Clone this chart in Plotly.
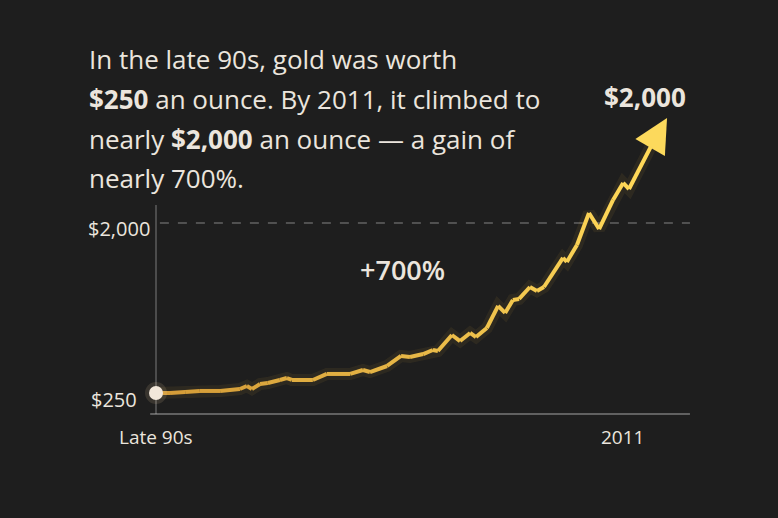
import plotly.graph_objects as go

# ---- data ----
years = [1999.00, 1999.36, 1999.75, 2000.13, 2000.65, 2001.16, 2001.34, 2001.47, 2001.68, 2001.88,
         2002.19, 2002.37, 2002.50, 2003.04, 2003.40, 2004.00, 2004.33, 2004.51, 2004.95, 2005.31,
         2005.54, 2005.88, 2006.13, 2006.26, 2006.62, 2006.83, 2007.09, 2007.24, 2007.52, 2007.81,
         2007.99, 2008.19, 2008.35, 2008.63, 2008.81, 2008.99, 2009.48, 2009.58, 2009.84, 2010.15,
         2010.41, 2010.77, 2011.03, 2011.18, 2011.80]
prices = [250, 250, 260, 271, 271, 291, 322, 291, 343, 353,
          384, 404, 384, 384, 446, 446, 487, 466, 528, 631,
          621, 651, 693, 682, 847, 785, 868, 826, 919, 1146,
          1074, 1207, 1218, 1341, 1300, 1341, 1640, 1599, 1774, 2103,
          1938, 2237, 2412, 2350, 2830]
arrow_tip = (2012.16, 3081)

x_tick_vals = [1999.0, 2011.0]
x_tick_text = ["Late 90s", "2011"]
y_tick_vals = [250, 2000]
y_tick_text = ["$250", "$2,000"]

title_lines = [
    "In the late 90s, gold was worth",
    "<b>$250</b> an ounce. By 2011, it climbed to",
    "nearly <b>$2,000</b> an ounce — a gain of",
    "nearly 700%.",
]

W, H = 778, 518
FONT = "Open Sans"
TXT = "#ebe5dd"

fig = go.Figure()

def lerp(c1, c2, t):
    return "rgb(%d,%d,%d)" % tuple(round(a + (b - a) * t) for a, b in zip(c1, c2))

c_left = (212, 156, 56)
c_right = (255, 216, 88)

# soft glow
fig.add_trace(go.Scatter(x=years, y=prices, mode="lines",
                         line=dict(color="rgba(255,200,70,0.07)", width=12),
                         hoverinfo="skip", showlegend=False))

# gradient line as segments
n = len(years)
for i in range(n - 1):
    t = i / (n - 2)
    fig.add_trace(go.Scatter(x=years[i:i + 2], y=prices[i:i + 2], mode="lines",
                             line=dict(color=lerp(c_left, c_right, t), width=4),
                             hoverinfo="skip", showlegend=False))

# starting point marker with glow
fig.add_trace(go.Scatter(x=[years[0]], y=[prices[0]], mode="markers",
                         marker=dict(size=22, color="rgba(255,220,170,0.12)"),
                         hoverinfo="skip", showlegend=False))
fig.add_trace(go.Scatter(x=[years[0]], y=[prices[0]], mode="markers",
                         marker=dict(size=14, color="#f2e7da", line=dict(width=0)),
                         hoverinfo="skip", showlegend=False))

# arrow head
fig.add_annotation(x=arrow_tip[0], y=arrow_tip[1], ax=years[-1], ay=prices[-1],
                   xref="x", yref="y", axref="x", ayref="y", text="",
                   showarrow=True, arrowhead=2, arrowsize=1.7, arrowwidth=4,
                   arrowcolor="#fcd95c", standoff=0, startstandoff=0)

def px_x(p):
    return p / W

def px_y(p):
    return 1 - p / H

# title text
title_centers = [59, 99, 139, 178]
for line, yc in zip(title_lines, title_centers):
    fig.add_annotation(x=px_x(87), y=px_y(yc), xref="paper", yref="paper",
                       text=line, showarrow=False, xanchor="left", yanchor="middle",
                       font=dict(family=FONT, size=26, color=TXT))

# $2,000 label top right
fig.add_annotation(x=px_x(645), y=px_y(97), xref="paper", yref="paper",
                   text="<b>$2,000</b>", showarrow=False, xanchor="center", yanchor="middle",
                   font=dict(family=FONT, size=26, color=TXT))

# +700%
fig.add_annotation(x=px_x(403), y=px_y(269), xref="paper", yref="paper",
                   text="+700%", showarrow=False, xanchor="center", yanchor="middle",
                   font=dict(family=FONT, size=27, color=TXT, weight=600))

# axis tick labels
y_label_px = {250: (114, 399), 2000: (119, 228)}
for v, t in zip(y_tick_vals, y_tick_text):
    cx, cy = y_label_px[v]
    fig.add_annotation(x=px_x(cx), y=px_y(cy), xref="paper", yref="paper",
                       text=t, showarrow=False, xanchor="center", yanchor="middle",
                       font=dict(family=FONT, size=20, color=TXT))
for v, t in zip(x_tick_vals, x_tick_text):
    fig.add_annotation(x=v, y=px_y(437), xref="x", yref="paper",
                       text=t, showarrow=False, xanchor="center", yanchor="middle",
                       font=dict(family=FONT, size=19, color=TXT))

# axes lines and reference line
y_floor, y_top = 34, 2185
fig.add_shape(type="line", xref="x", yref="y", x0=1999.0, x1=1999.0, y0=y_floor, y1=y_top,
              line=dict(color="rgba(200,200,200,0.55)", width=1), layer="below")
fig.add_shape(type="line", xref="x", yref="y", x0=1998.85, x1=2012.75, y0=y_floor, y1=y_floor,
              line=dict(color="rgba(210,210,210,0.75)", width=1.2), layer="below")
fig.add_shape(type="line", xref="x", yref="y", x0=1999.10, x1=2012.75, y0=2000, y1=2000,
              line=dict(color="rgba(200,200,200,0.6)", width=1, dash="dash"), layer="below")

# axes mapped so the plot area covers the whole page
x0 = 1999 - 156 / 38.833
x1 = 1999 + (W - 156) / 38.833
y0 = 250 - (H - 393) * 1750 / 170
y1 = 250 + 393 * 1750 / 170
fig.update_xaxes(range=[x0, x1], visible=False, fixedrange=True)
fig.update_yaxes(range=[y0, y1], visible=False, fixedrange=True)

fig.update_layout(width=W, height=H, margin=dict(l=0, r=0, t=0, b=0),
                  paper_bgcolor="#1e1e1e", plot_bgcolor="#1e1e1e",
                  showlegend=False, font=dict(family=FONT))

fig.write_html("out.html", config={"displayModeBar": False})
